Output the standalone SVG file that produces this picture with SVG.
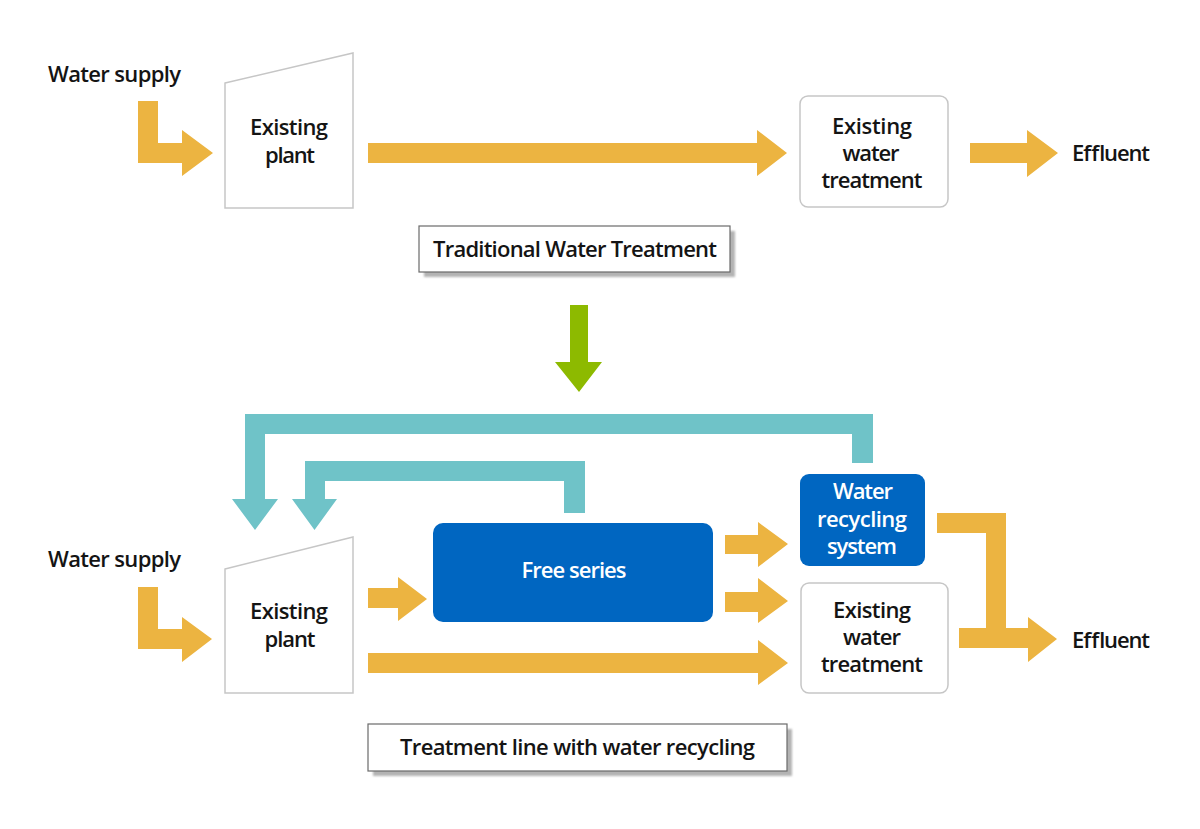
<svg xmlns="http://www.w3.org/2000/svg" width="1200" height="829" viewBox="0 0 1200 829">
<defs>
<style>
.o{fill:#ECB441}
.t{fill:#6FC3C8}
.g{fill:#8DBA00}
.plant{fill:#fff;stroke:#c6c6c6;stroke-width:1.5}
.box{fill:#fff;stroke:#c6c6c6;stroke-width:1.5}
.blue{fill:#0066C1}
.lbl{fill:#fff;stroke:#6a6a6a;stroke-width:1.2}
.sh{fill:#b3b3b3}
text{font-family:"Open Sans","Noto Sans","Liberation Sans",sans-serif;font-weight:600;font-size:22px;fill:#141414}
.c{text-anchor:middle}
.w{fill:#fff}
</style>
<filter id="blur" x="-5%" y="-20%" width="110%" height="140%"><feGaussianBlur stdDeviation="1.2"/></filter>
</defs>
<rect width="1200" height="829" fill="#fff"/>

<g id="connectors">
<polygon class="o" points="138,101 158,101 158,143 182,143 182,130 213,153 182,176 182,163 138,163"/>
<polygon class="o" points="368,143 757,143 757,130 787,153 757,176 757,163 368,163"/>
<polygon class="o" points="970,143 1027,143 1027,130 1058,153 1027,177 1027,163 970,163"/>
<polygon class="g" points="570,305 588,305 588,362 602,362 579,392 555,362 570,362"/>
<polygon class="o" points="138,587 158,587 158,629 182,629 182,617 212,639 182,662 182,649 138,649"/>
<polygon class="o" points="368,588 398,588 398,577 427,599 398,621 398,608 368,608"/>
<polygon class="o" points="368,653 758,653 758,640 788,663 758,685 758,673 368,673"/>
<polygon class="o" points="725,535 758,535 758,522 788,544 758,567 758,554 725,554"/>
<polygon class="o" points="725,592 758,592 758,578 788,601 758,623 758,612 725,612"/>
<path class="o" d="M937,513 H1006 V628 H1028 V617 L1057,639 L1028,662 V648 H959 V628 H986 V533 H937 Z"/>
<path class="t" d="M873,463 H852 V434 H265 V499 H278 L255,530 L232,499 H245 V414 H873 Z"/>
<path class="t" d="M585,513 H564 V481 H325 V499 H337 L314.5,530 L292,499 H305 V461 H585 Z"/>
</g>

<g id="water-supply-top"><text x="48" y="82" textLength="133">Water supply</text></g>
<g id="plant-top">
<polygon class="plant" points="225,83 353,53 353,208 225,208"/>
<text class="c" x="289" y="135" textLength="78">Existing</text>
<text class="c" x="290" y="163" textLength="50">plant</text>
</g>
<g id="ewt-top">
<rect class="box" x="800" y="96" width="148" height="111" rx="8"/>
<text class="c" x="872" y="134" textLength="80">Existing</text>
<text class="c" x="871" y="161" textLength="57">water</text>
<text class="c" x="872" y="188" textLength="101">treatment</text>
</g>
<g id="effluent-top"><text x="1072" y="161" textLength="78">Effluent</text></g>
<g id="label-top">
<rect class="sh" x="424" y="231" width="311" height="46" filter="url(#blur)"/>
<rect class="lbl" x="419" y="226" width="311" height="46"/>
<text x="433" y="257" textLength="284">Traditional Water Treatment</text>
</g>

<g id="water-supply-bottom"><text x="48" y="567" textLength="133">Water supply</text></g>
<g id="plant-bottom">
<polygon class="plant" points="225,569 353,537 353,693 225,693"/>
<text class="c" x="289" y="619" textLength="78">Existing</text>
<text class="c" x="290" y="647" textLength="51">plant</text>
</g>
<g id="free-series">
<rect class="blue" x="433" y="523" width="280" height="99" rx="10"/>
<text class="c w" x="574" y="578" textLength="105">Free series</text>
</g>
<g id="water-recycling">
<rect class="blue" x="800" y="474" width="125" height="92" rx="9"/>
<text class="c w" x="863" y="499" textLength="60">Water</text>
<text class="c w" x="862" y="527" textLength="90">recycling</text>
<text class="c w" x="862" y="554" textLength="70">system</text>
</g>
<g id="ewt-bottom">
<rect class="box" x="801" y="583" width="147" height="110" rx="8"/>
<text class="c" x="872" y="618" textLength="78">Existing</text>
<text class="c" x="872" y="645" textLength="58">water</text>
<text class="c" x="872" y="672" textLength="102">treatment</text>
</g>
<g id="effluent-bottom"><text x="1072" y="648" textLength="78">Effluent</text></g>
<g id="label-bottom">
<rect class="sh" x="373" y="729" width="419" height="47" filter="url(#blur)"/>
<rect class="lbl" x="368" y="724" width="419" height="47"/>
<text x="400" y="755" textLength="355">Treatment line with water recycling</text>
</g>
</svg>
